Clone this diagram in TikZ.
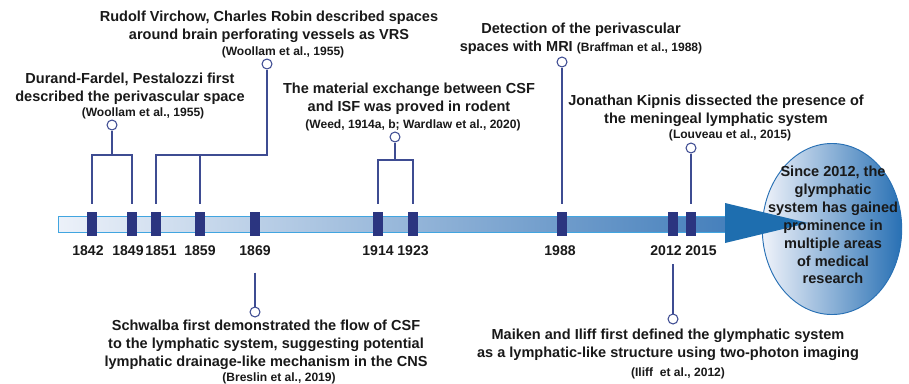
\documentclass[tikz,border=0pt]{standalone}
\usepackage{fontspec}
\setmainfont{Liberation Sans}
\usetikzlibrary{shapes.geometric}

\definecolor{navy}{RGB}{43,53,128}
\definecolor{linkc}{RGB}{62,76,146}
\definecolor{barl}{RGB}{236,241,249}
\definecolor{barr}{RGB}{70,128,188}
\definecolor{barb}{RGB}{65,165,224}
\definecolor{headc}{RGB}{30,110,175}
\definecolor{goall}{RGB}{240,243,250}
\definecolor{goalr}{RGB}{40,112,180}
\definecolor{txt}{RGB}{25,25,25}
\newcommand{\reffont}{\fontsize{10.3}{12}\selectfont}

\begin{document}
\begin{tikzpicture}[
        x=0.03cm, y=-0.03cm,
        tick/.style={rectangle, fill=navy, minimum width=8.5pt, minimum height=20.7pt, inner sep=0pt, outer ysep=6.8pt},
        year/.style={font=\fontsize{12}{14}\selectfont\bfseries, text=txt, inner sep=1pt},
        dot/.style={circle, draw=linkc, fill=white, line width=0.9pt, minimum size=8.5pt, inner sep=0pt},
        link/.style={draw=linkc, line width=1pt},
        event/.style={font=\fontsize{12.4}{15.3}\selectfont\bfseries, text=txt, align=center, inner sep=0pt},
        cite/.style={font=\reffont\bfseries, text=txt, inner sep=0pt},
        goal/.style={ellipse, draw=goalr, line width=0.8pt, left color=goall, right color=goalr, minimum width=119pt, minimum height=146pt},
    ]

    \useasboundingbox (0,0) rectangle (909,383);

    \node[goal] (goal) at (832,229) {};

    \fill[left color=barl, right color=barr, draw=barb, line width=0.7pt] (58,216) rectangle (726,232);
    \fill[headc] (725,203) -- (808,223) -- (725,243) -- cycle;

    \node[tick] (t1842) at (92,224) {};
    \node[tick] (t1849) at (132,224) {};
    \node[tick] (t1851) at (156,224) {};
    \node[tick] (t1859) at (200,224) {};
    \node[tick] (t1869) at (255,224) {};
    \node[tick] (t1914) at (378,224) {};
    \node[tick] (t1923) at (413,224) {};
    \node[tick] (t1988) at (562,224) {};
    \node[tick] (t2012) at (673,224) {};
    \node[tick] (t2015) at (691,224) {};

    \node[year] (y1842) at (88,251) {1842};
    \node[year] (y1849) at (128,251) {1849};
    \node[year] (y1851) at (161,251) {1851};
    \node[year] (y1859) at (200,251) {1859};
    \node[year] (y1869) at (255,251) {1869};
    \node[year] (y1914) at (378,251) {1914};
    \node[year] (y1923) at (413,251) {1923};
    \node[year] (y1988) at (560,251) {1988};
    \node[year] (y2012) at (666,251) {2012};
    \node[year] (y2015) at (701,251) {2015};

    \node[event] (goaltext) at (833,225) {Since 2012, the\\glymphatic\\system has gained\\prominence in\\multiple areas\\of medical\\research};

    % events above the line
    \node[dot] (c1) at (112,125) {};
    \node[dot] (c2) at (267,64) {};
    \node[dot] (c3) at (395,137) {};
    \node[dot] (c4) at (562,62) {};
    \node[dot] (c5) at (691,148) {};

    \coordinate (k1) at (112,155);
    \coordinate (k2) at (267,155);
    \coordinate (k3) at (395,160);

    \draw[link] (t1842.north) |- (k1) -| (t1849.north);
    \draw[link] (k1) -- (c1);
    \draw[link] (t1851.north) |- (k2) -- (c2);
    \draw[link] (t1859.north) -- (t1859.north |- k2);
    \draw[link] (t1914.north) |- (k3) -| (t1923.north);
    \draw[link] (k3) -- (c3);
    \draw[link] (t1988.north) -- (c4);
    \draw[link] (t2015.north) -- (c5);

    \node[event] (durand) at (130,89) {Durand-Fardel, Pestalozzi first\\described the perivascular space};
    \node[cite] (durandref) at (143,113) {(Woollam et al., 1955)};
    \node[event] (virchow) at (269,27) {Rudolf Virchow, Charles Robin described spaces\\around brain perforating vessels as VRS};
    \node[cite] (virchowref) at (283,52) {(Woollam et al., 1955)};
    \node[event] (exchange) at (409,99) {The material exchange between CSF\\and ISF was proved in rodent};
    \node[cite] (exchangeref) at (413,125) {(Weed, 1914a, b; Wardlaw et al., 2020)};
    \node[event] (mri) at (581,39) {Detection of the perivascular\\spaces with MRI {\reffont (Braffman et al., 1988)}};
    \node[event] (kipnis) at (716,111) {Jonathan Kipnis dissected the presence of\\the meningeal lymphatic system};
    \node[cite] (kipnisref) at (730,135) {(Louveau et al., 2015)};

    % events below the line
    \node[dot] (c6) at (255,312) {};
    \node[dot] (c7) at (673,319) {};

    \draw[link] ([yshift=-13pt]c6 |- y1869.south) -- (c6);
    \draw[link] ([yshift=-6pt]c7 |- y2012.south) -- (c7);

    \node[event] (schwalba) at (266,345) {Schwalba first demonstrated the flow of CSF\\to the lymphatic system, suggesting potential\\lymphatic drainage-like mechanism in the CNS};
    \node[cite] (schwalbaref) at (279,378) {(Breslin et al., 2019)};
    \node[event] (maiken) at (668,345) {Maiken and Iliff first defined the glymphatic system\\as a lymphatic-like structure using two-photon imaging};
    \node[cite] (maikenref) at (678,373) {(Iliff~ et al., 2012)};
\end{tikzpicture}
\end{document}
